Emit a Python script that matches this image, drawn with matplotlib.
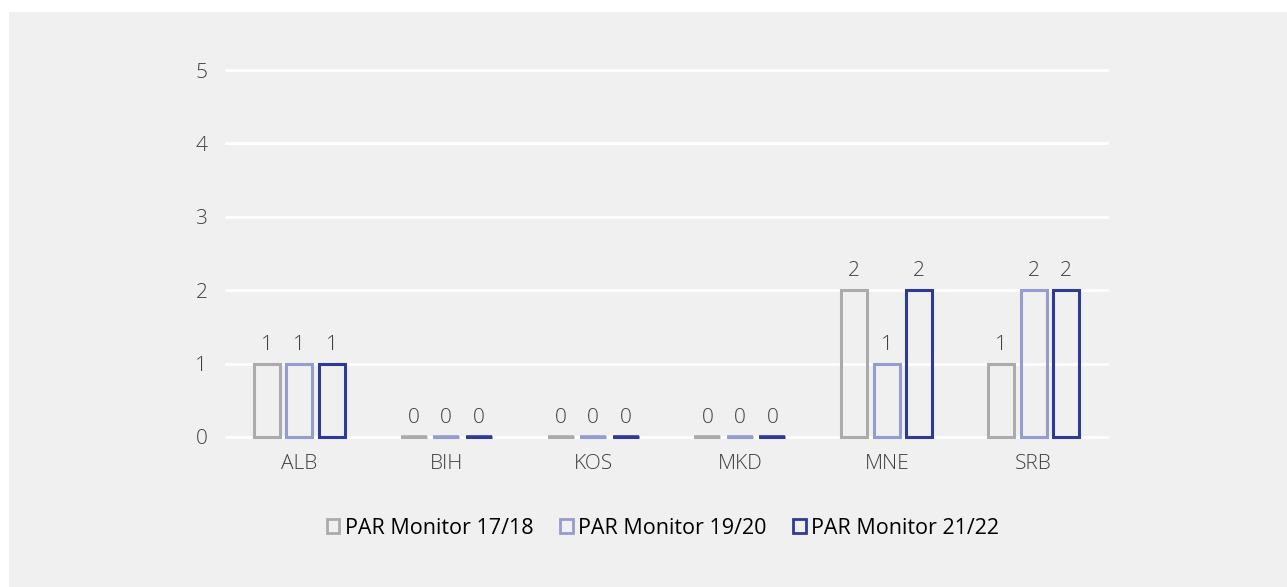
import numpy as np
import matplotlib
matplotlib.use("Agg")
import matplotlib.pyplot as plt
from matplotlib.patches import Patch, Rectangle

# datos
categories = ["ALB", "BIH", "KOS", "MKD", "MNE", "SRB"]
series_names = ["PAR Monitor 17/18", "PAR Monitor 19/20", "PAR Monitor 21/22"]
par_1718 = [1, 0, 0, 0, 2, 1]
par_1920 = [1, 0, 0, 0, 1, 2]
par_2122 = [1, 0, 0, 0, 2, 2]
y_ticks = [0, 1, 2, 3, 4, 5]

colores = ["#ababab", "#959cce", "#2f3a97"]
bg = "#f0f0f0"

fig = plt.figure(figsize=(12.87, 5.87), dpi=100, facecolor="white")
# panel gris
fig.patches.append(Rectangle((9 / 1287, 0), 1 - 9 / 1287, 1 - 12 / 587,
                             transform=fig.transFigure, facecolor=bg,
                             edgecolor="none", zorder=-10))

ax = fig.add_axes([226 / 1287, 1 - 437 / 587, (1107 - 226) / 1287, (437 - 70) / 587])
ax.set_facecolor("none")
ax.set_zorder(1)

x = np.arange(len(categories))
width = 0.177
step = 0.221
for i, (vals, col, name) in enumerate(zip([par_1718, par_1920, par_2122], colores, series_names)):
    pos = x + (i - 1) * step
    barras = ax.bar(pos, vals, width=width, facecolor="none", edgecolor=col,
                    linewidth=2.2, zorder=3, label=name)
    for b in barras:
        b.set_clip_on(False)
    # barras en cero: una raya del color de la serie
    vals_arr = np.array(vals)
    cero = vals_arr == 0
    ax.hlines(vals_arr[cero], pos[cero] - width / 2, pos[cero] + width / 2,
              color=col, linewidth=2.6, zorder=3, clip_on=False)
    for p, v in zip(pos, vals):
        ax.annotate(str(v), xy=(p, v), xytext=(0, 10), textcoords="offset points",
                    ha="center", va="baseline", fontsize=15, color="#404040",
                    fontfamily="Open Sans", fontweight="light")

ax.set_xlim(-0.5, len(categories) - 0.5)
ax.set_ylim(0, 5)
ax.set_yticks(y_ticks)
ax.set_xticks(x)
ax.set_xticklabels(categories)
ax.grid(axis="y", color="white", linewidth=2, zorder=1)
ax.set_axisbelow(True)
for s in ax.spines.values():
    s.set_visible(False)
ax.tick_params(length=0)
ax.tick_params(axis="y", pad=13.5, labelsize=15, labelcolor="#404040")
ax.tick_params(axis="x", pad=12, labelsize=15, labelcolor="#404040")
for lab in ax.get_xticklabels() + ax.get_yticklabels():
    lab.set_fontfamily("Open Sans")
    lab.set_fontweight("light")
for gl in ax.get_ygridlines():
    gl.set_clip_on(False)

handles = [Patch(facecolor="none", edgecolor=c, linewidth=2) for c in colores]
fig.legend(handles, series_names, loc="center", bbox_to_anchor=(663 / 1287, 1 - 528 / 587),
           ncol=3, frameon=False, handlelength=0.6, handleheight=0.6, handletextpad=0.27,
           columnspacing=1.2, labelcolor="black", prop={"family": "Open Sans", "size": 15.5})

plt.savefig("out.png", dpi=100, facecolor="white")
